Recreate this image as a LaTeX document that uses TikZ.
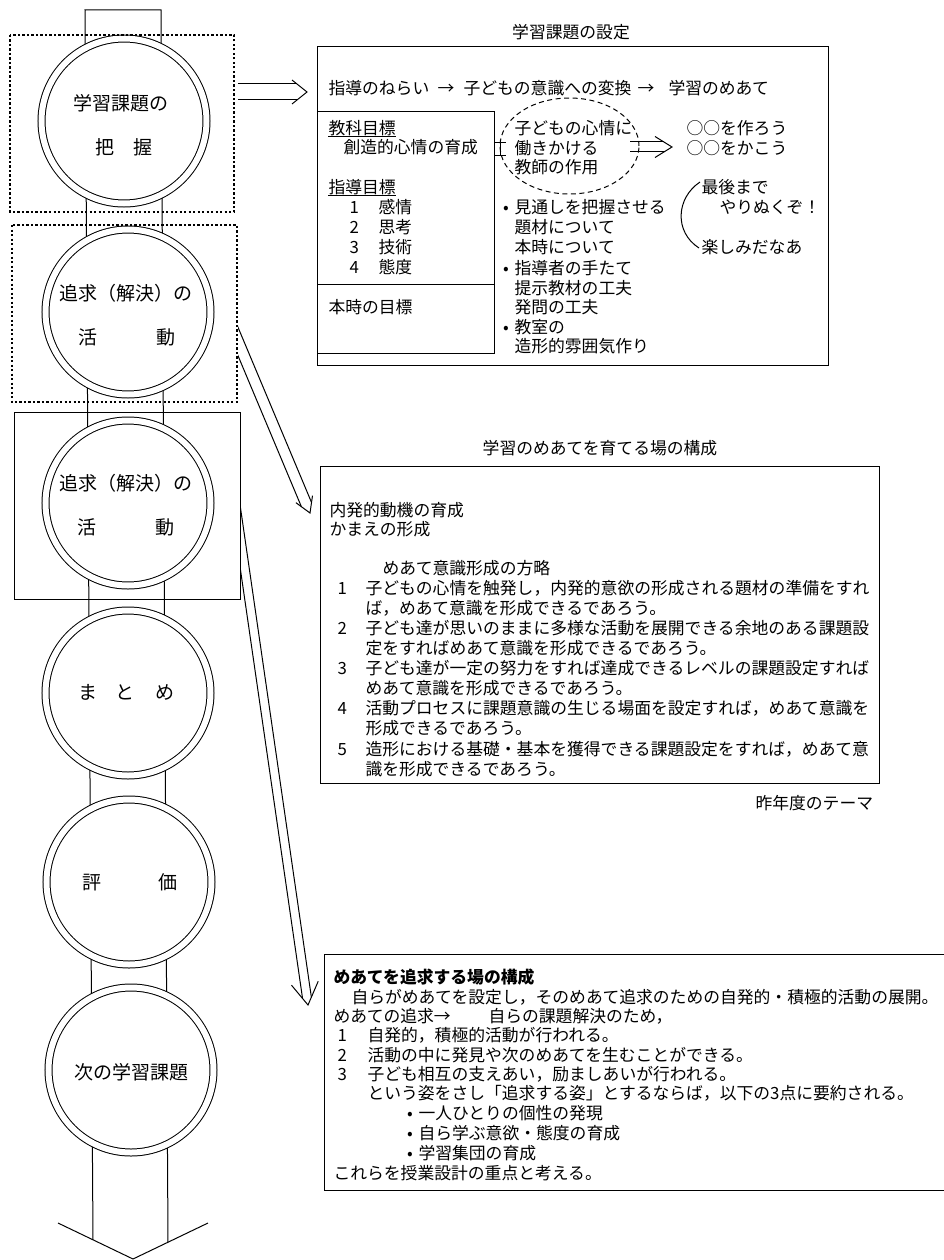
\documentclass[tikz,border=0pt]{standalone}
\usepackage{fontspec}
\setmainfont{Noto Sans CJK JP}
\usetikzlibrary{calc,shapes.geometric}
\newcommand\txtfs{\fontsize{16.8pt}{20pt}\selectfont}
\newcommand\circfs{\fontsize{19pt}{22pt}\selectfont}
% double-line arrow: #1 start, #2 tip, #3 half separation, #4 head length, #5 head half width (numbers, pt)
\newcommand\dblarrow[5]{%
  \coordinate (dbE) at ($(#2)!#4*#3/#5*1pt!(#1)$);
  \coordinate (dbB) at ($(#2)!#4pt!(#1)$);
  \draw ($(#1)!#3pt!90:(#2)$) -- ($(dbE)!#3pt!-90:(#1)$);
  \draw ($(#1)!#3pt!-90:(#2)$) -- ($(dbE)!#3pt!90:(#1)$);
  \draw[line join=miter] ($(dbB)!#5pt!-90:(#1)$) -- (#2) -- ($(dbB)!#5pt!90:(#1)$);
}
\begin{document}
\begin{tikzpicture}[x=1pt,y=-1pt,line width=1pt,
  txt/.style={anchor=west,inner sep=0pt,font=\txtfs,text height=14.8pt,text depth=2pt},
  ctxt/.style={txt,anchor=center},
  ctx/.style={anchor=center,inner sep=0pt,font=\circfs,text height=16.7pt,text depth=2.3pt},
  stagecirc/.style={circle,draw,double,double distance=6pt,fill=white,minimum size=165pt,inner sep=0pt},
  dotbox/.style={draw,dash pattern=on 2.2pt off 2.3pt,line width=1.1pt},
  dashell/.style={ellipse,draw,dash pattern=on 5pt off 3.5pt,minimum width=139pt,minimum height=96pt,inner sep=0pt}]
\useasboundingbox (0,0) rectangle (944,1260);

% ---------- left column ----------
\coordinate (barTL) at (85,10);
\coordinate (barTR) at (161,10);
\coordinate (barBL) at (93,1239.8);
\coordinate (barBR) at (168,1242.2);
\coordinate (ahL) at (58,1223);
\coordinate (ahT) at (133,1259);
\coordinate (ahR) at (208,1223);
\draw (barBL) -- (barTL) -- (barTR) -- (barBR);
\draw[line join=miter] (ahL) -- (ahT) -- (ahR);

\node[stagecirc] (c1) at (124,121) {};
\node[stagecirc] (c2) at (128,312) {};
\node[stagecirc] (c3) at (128,503) {};
\node[stagecirc] (c4) at (128,693) {};
\node[stagecirc] (c5) at (129,882) {};
\node[stagecirc] (c6) at (131,1070) {};

\node[ctx] (c1a) at (121,103) {学習課題の};
\node[ctx] (c1b) at (105,147) {把};
\node[ctx] (c1c) at (143,147) {握};
\node[ctx] (c2a) at (126,293) {追求（解決）の};
\node[ctx] (c2b) at (88,337) {活};
\node[ctx] (c2c) at (166,337) {動};
\node[ctx] (c3a) at (126,483) {追求（解決）の};
\node[ctx] (c3b) at (87,527) {活};
\node[ctx] (c3c) at (165,527) {動};
\node[ctx] (c4a) at (88,692) {ま};
\node[ctx] (c4b) at (125,692) {と};
\node[ctx] (c4c) at (165,692) {め};
\node[ctx] (c5a) at (92,882) {評};
\node[ctx] (c5b) at (168,882) {価};
\node[ctx] (c6a) at (131,1072) {次の学習課題};

\draw[dotbox] (10,35) rectangle (234,212);
\draw[dotbox] (12,225) rectangle (237,402);
\draw (14,412) rectangle (240,599);

% ---------- arrows from left column ----------
\coordinate (ta1) at (238,92);
\coordinate (ta2) at (307,92);
\dblarrow{ta1}{ta2}{8}{15}{12}

\begin{scope}
  \clip (238,0) rectangle (944,1260);
  \coordinate (aS) at (221,301);
  \coordinate (aT) at (310,513);
  \dblarrow{aS}{aT}{5.5}{15}{9}
\end{scope}
\begin{scope}
  \clip (241,0) rectangle (944,1260);
  \coordinate (bS) at (230.6,470.6);
  \coordinate (bT) at (308,1005);
  \dblarrow{bS}{bT}{4.45}{22}{13.5}
\end{scope}

% ---------- top box ----------
\node[ctxt] (ttl1) at (571,32) {学習課題の設定};
\draw (317,47) rectangle (828,365);
\node[txt] (l1a) at (328,88) {指導のねらい};
\node[ctxt] (l1b) at (446,88) {→};
\node[txt] (l1c) at (463,88) {子どもの意識への変換};
\node[ctxt] (l1d) at (646,88) {→};
\node[txt] (l1e) at (668,88) {学習のめあて};

\draw (317,112) rectangle (494,353);
\draw (317,284) -- (494,284);
\node[txt] (kt) at (328,128) {教科目標};
\draw (kt.south west) -- (kt.south east);
\node[txt] (ks) at (343,147) {創造的心情の育成};
\node[txt] (st) at (328,187) {指導目標};
\draw (st.south west) -- (st.south east);
\node[txt] (n1) at (349,207) {1};
\node[txt] (w1) at (378,207) {感情};
\node[txt] (n2) at (349,227) {2};
\node[txt] (w2) at (378,227) {思考};
\node[txt] (n3) at (349,247) {3};
\node[txt] (w3) at (378,247) {技術};
\node[txt] (n4) at (349,267) {4};
\node[txt] (w4) at (378,267) {態度};
\node[txt] (ht) at (328,307) {本時の目標};

\node[dashell] (ell) at (569.5,146) {};
\node[txt] (e1) at (514,128) {子どもの心情に};
\node[txt] (e2) at (514,148) {働きかける};
\node[txt] (e3) at (514,167) {教師の作用};
\draw (494,143) -- (506,143);
\draw (500,143) -- (500,156);
\draw (494,156) -- (506,156);

\coordinate (ea1) at (630,147);
\coordinate (ea2) at (672,147);
\dblarrow{ea1}{ea2}{5}{17}{10.5}
\node[txt] (o1) at (686,128) {○○を作ろう};
\node[txt] (o2) at (686,148) {○○をかこう};

\coordinate (pa1) at (700,182);
\coordinate (pa2) at (699,248);
\draw (pa1) .. controls (676,198) and (674,232) .. (pa2);
\node[txt] (s1) at (701,187) {最後まで};
\node[txt] (s2) at (719,207) {やりぬくぞ！};
\node[txt] (s3) at (701,247) {楽しみだなあ};

\node[ctxt] (bu1) at (506,207) {•};
\node[txt] (p1) at (514,207) {見通しを把握させる};
\node[txt] (p2) at (514,227) {題材について};
\node[txt] (p3) at (514,247) {本時について};
\node[ctxt] (bu2) at (506,268) {•};
\node[txt] (p4) at (514,268) {指導者の手たて};
\node[txt] (p5) at (514,288) {提示教材の工夫};
\node[txt] (p6) at (514,307) {発問の工夫};
\node[ctxt] (bu3) at (506,327) {•};
\node[txt] (p7) at (514,327) {教室の};
\node[txt] (p8) at (514,346) {造形的雰囲気作り};

% ---------- middle box ----------
\node[ctxt] (ttl2) at (600,448) {学習のめあてを育てる場の構成};
\draw (320,466) rectangle (879,783);
\node[txt] (m1) at (329,510) {内発的動機の育成};
\node[txt] (m2) at (329,529) {かまえの形成};
\node[txt] (m3) at (382,568) {めあて意識形成の方略};
\node[txt] (mn1) at (337,588) {1};
\node[txt] (m4) at (365,588) {子どもの心情を触発し，内発的意欲の形成される題材の準備をすれ};
\node[txt] (m5) at (365,608) {ば，めあて意識を形成できるであろう。};
\node[txt] (mn2) at (337,628) {2};
\node[txt] (m6) at (365,628) {子ども達が思いのままに多様な活動を展開できる余地のある課題設};
\node[txt] (m7) at (365,648) {定をすればめあて意識を形成できるであろう。};
\node[txt] (mn3) at (337,668) {3};
\node[txt] (m8) at (365,668) {子ども達が一定の努力をすれば達成できるレベルの課題設定すれば};
\node[txt] (m9) at (365,688) {めあて意識を形成できるであろう。};
\node[txt] (mn4) at (337,708) {4};
\node[txt] (m10) at (365,708) {活動プロセスに課題意識の生じる場面を設定すれば，めあて意識を};
\node[txt] (m11) at (365,728) {形成できるであろう。};
\node[txt] (mn5) at (337,749) {5};
\node[txt] (m12) at (365,749) {造形における基礎・基本を獲得できる課題設定をすれば，めあて意};
\node[txt] (m13) at (365,769) {識を形成できるであろう。};
\node[txt] (yt) at (755,803) {昨年度のテーマ};

% ---------- bottom box ----------
\draw (944,954) -- (324,954) -- (324,1190) -- (944,1190);
\node[txt,font=\txtfs\bfseries] (bt) at (333,977) {めあてを追求する場の構成};
\node[txt] (b1) at (351,997) {自らがめあてを設定し，そのめあて追求のための自発的・積極的活動の展開。};
\node[txt] (b2) at (333,1016) {めあての追求→};
\node[txt] (b3) at (488,1016) {自らの課題解決のため，};
\node[txt] (bn1) at (337,1035) {1};
\node[txt] (b4) at (367,1035) {自発的，積極的活動が行われる。};
\node[txt] (bn2) at (337,1055) {2};
\node[txt] (b5) at (367,1055) {活動の中に発見や次のめあてを生むことができる。};
\node[txt] (bn3) at (337,1074) {3};
\node[txt] (b6) at (367,1074) {子ども相互の支えあい，励ましあいが行われる。};
\node[txt] (b7) at (367,1093) {という姿をさし「追求する姿」とするならば，以下の3点に要約される。};
\node[ctxt] (bu4) at (410,1113) {•};
\node[txt] (b8) at (418,1113) {一人ひとりの個性の発現};
\node[ctxt] (bu5) at (410,1133) {•};
\node[txt] (b9) at (418,1133) {自ら学ぶ意欲・態度の育成};
\node[ctxt] (bu6) at (410,1153) {•};
\node[txt] (b10) at (418,1153) {学習集団の育成};
\node[txt] (b11) at (333,1173) {これらを授業設計の重点と考える。};
\end{tikzpicture}
\end{document}
